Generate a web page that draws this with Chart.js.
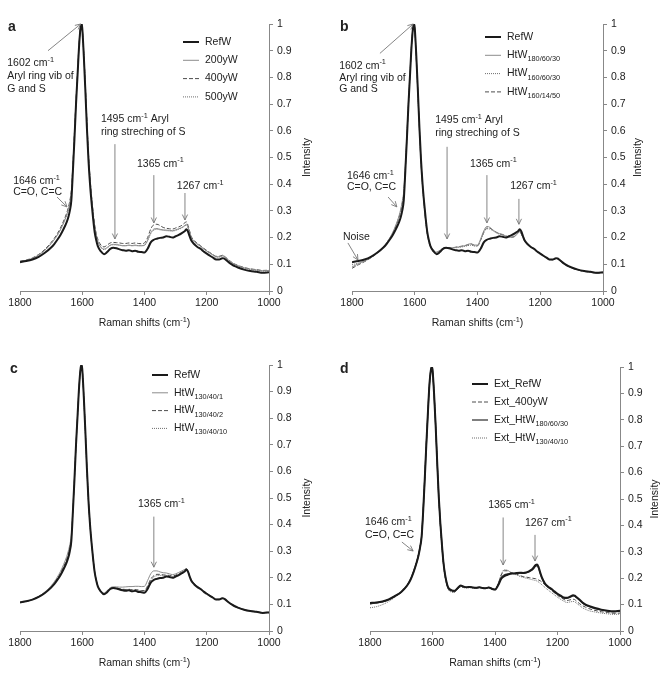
<!DOCTYPE html>
<html>
<head>
<meta charset="utf-8">
<script src="https://cdn.jsdelivr.net/npm/chart.js@4.4.1/dist/chart.umd.min.js"></script>
<style>
  body { margin: 0; background: #fff; }
  #fig { position: relative; width: 660px; height: 675px; }
  canvas { position: absolute; }
</style>
</head>
<body>
<div id="fig">
  <canvas id="panelA" width="330" height="337" style="left:0;top:0"></canvas>
  <canvas id="panelB" width="330" height="337" style="left:330px;top:0"></canvas>
  <canvas id="panelC" width="330" height="338" style="left:0;top:337px"></canvas>
  <canvas id="panelD" width="330" height="338" style="left:330px;top:337px"></canvas>
</div>
<script>
const FONT = "'Liberation Sans', Arial, sans-serif";

// Raman shift grid, cm-1
const shifts = [
  1800, 1780, 1760, 1740, 1720, 1700,
  1690, 1680, 1670, 1660, 1650,
  1645, 1640, 1635, 1630, 1625, 1620, 1615, 1610, 1605,
  1602, 1600, 1595, 1590, 1585, 1580, 1575, 1570, 1565, 1560,
  1555, 1550, 1540, 1530, 1520, 1510, 1500, 1490, 1480, 1470,
  1460, 1450, 1440, 1430, 1420, 1410, 1400, 1390, 1380, 1370,
  1360, 1350, 1340, 1330, 1320, 1310, 1300, 1290, 1280, 1270,
  1265, 1260, 1255, 1250, 1240, 1230, 1220, 1210, 1200, 1190,
  1180, 1170, 1160, 1150, 1145, 1140, 1130, 1120, 1110, 1100,
  1080, 1060, 1040, 1020, 1000
];

// normalised intensities, one value per shift
const refW = [
  0.108, 0.112, 0.118, 0.128, 0.143, 0.163,
  0.176, 0.192, 0.21, 0.232, 0.258,
  0.275, 0.3, 0.34, 0.45, 0.57, 0.7, 0.81, 0.92, 0.99,
  1, 0.985, 0.88, 0.75, 0.61, 0.49, 0.4, 0.33, 0.27, 0.22,
  0.19, 0.168, 0.148, 0.138, 0.146, 0.158, 0.162, 0.16, 0.156, 0.153,
  0.151, 0.153, 0.149, 0.151, 0.147, 0.146, 0.144, 0.158, 0.182, 0.192,
  0.196, 0.199, 0.2, 0.205, 0.203, 0.2, 0.205, 0.21, 0.217, 0.225,
  0.231, 0.222, 0.205, 0.19, 0.175, 0.165, 0.158, 0.148, 0.14, 0.132,
  0.125, 0.118, 0.118, 0.123, 0.122, 0.118, 0.108, 0.1, 0.093, 0.088,
  0.08, 0.075, 0.072, 0.068, 0.07
];
const yW200 = [
  0.11, 0.115, 0.122, 0.135, 0.153, 0.178,
  0.193, 0.21, 0.23, 0.255, 0.285,
  0.305, 0.33, 0.37, 0.47, 0.59, 0.71, 0.82, 0.93, 0.99,
  1, 0.985, 0.89, 0.77, 0.63, 0.51, 0.42, 0.35, 0.29, 0.24,
  0.208, 0.186, 0.165, 0.157, 0.163, 0.172, 0.175, 0.174, 0.172, 0.17,
  0.17, 0.172, 0.17, 0.172, 0.17, 0.17, 0.172, 0.19, 0.218, 0.232,
  0.234, 0.231, 0.229, 0.228, 0.227, 0.226, 0.229, 0.233, 0.238, 0.246,
  0.25, 0.238, 0.22, 0.202, 0.186, 0.176, 0.168, 0.158, 0.15, 0.142,
  0.135, 0.128, 0.128, 0.132, 0.131, 0.126, 0.116, 0.107, 0.1, 0.095,
  0.087, 0.082, 0.079, 0.076, 0.077
];
const yW400 = [
  0.112, 0.116, 0.124, 0.137, 0.156, 0.182,
  0.197, 0.215, 0.236, 0.262, 0.292,
  0.312, 0.338, 0.378, 0.475, 0.595, 0.715, 0.825, 0.93, 0.99,
  1, 0.985, 0.89, 0.77, 0.635, 0.515, 0.425, 0.355, 0.295, 0.248,
  0.215, 0.194, 0.172, 0.165, 0.172, 0.18, 0.182, 0.181, 0.18, 0.178,
  0.178, 0.18, 0.178, 0.18, 0.178, 0.177, 0.18, 0.2, 0.232, 0.248,
  0.25, 0.245, 0.238, 0.235, 0.233, 0.232, 0.236, 0.24, 0.246, 0.256,
  0.259, 0.245, 0.225, 0.205, 0.189, 0.178, 0.17, 0.16, 0.152, 0.144,
  0.137, 0.13, 0.13, 0.134, 0.132, 0.127, 0.117, 0.108, 0.101, 0.096,
  0.088, 0.083, 0.08, 0.077, 0.078
];
const yW500 = [
  0.109, 0.114, 0.121, 0.134, 0.152, 0.177,
  0.192, 0.209, 0.229, 0.254, 0.283,
  0.303, 0.328, 0.368, 0.465, 0.585, 0.705, 0.815, 0.925, 0.99,
  1, 0.985, 0.885, 0.765, 0.625, 0.505, 0.415, 0.345, 0.285, 0.236,
  0.205, 0.183, 0.162, 0.155, 0.161, 0.17, 0.173, 0.172, 0.171, 0.169,
  0.169, 0.171, 0.169, 0.17, 0.169, 0.169, 0.171, 0.188, 0.215, 0.228,
  0.231, 0.229, 0.227, 0.226, 0.225, 0.224, 0.227, 0.231, 0.236, 0.244,
  0.248, 0.236, 0.218, 0.2, 0.184, 0.175, 0.166, 0.157, 0.149, 0.141,
  0.134, 0.127, 0.127, 0.131, 0.13, 0.125, 0.115, 0.106, 0.099, 0.094,
  0.086, 0.081, 0.078, 0.075, 0.076
];
const htW180_60_30 = [
  0.09, 0.102, 0.112, 0.125, 0.142, 0.165,
  0.18, 0.198, 0.22, 0.248, 0.282,
  0.305, 0.335, 0.375, 0.47, 0.59, 0.71, 0.82, 0.93, 0.99,
  1, 0.98, 0.87, 0.74, 0.6, 0.48, 0.39, 0.32, 0.26, 0.215,
  0.186, 0.168, 0.152, 0.145, 0.152, 0.16, 0.162, 0.163, 0.162, 0.163,
  0.165, 0.167, 0.17, 0.175, 0.177, 0.172, 0.172, 0.195, 0.225, 0.242,
  0.238, 0.228, 0.22, 0.215, 0.212, 0.206, 0.202, 0.2, 0.205, 0.218,
  0.222, 0.212, 0.2, 0.188, 0.175, 0.165, 0.157, 0.148, 0.14, 0.132,
  0.124, 0.117, 0.117, 0.122, 0.12, 0.116, 0.106, 0.098, 0.092, 0.087,
  0.079, 0.074, 0.071, 0.068, 0.069
];
const htW160_60_30 = [
  0.098, 0.105, 0.114, 0.127, 0.144, 0.166,
  0.181, 0.198, 0.218, 0.245, 0.278,
  0.3, 0.328, 0.368, 0.46, 0.58, 0.705, 0.815, 0.925, 0.99,
  1, 0.98, 0.87, 0.74, 0.6, 0.48, 0.39, 0.32, 0.26, 0.213,
  0.184, 0.166, 0.15, 0.143, 0.15, 0.158, 0.16, 0.161, 0.161, 0.162,
  0.163, 0.165, 0.167, 0.17, 0.172, 0.168, 0.168, 0.19, 0.218, 0.233,
  0.232, 0.225, 0.218, 0.213, 0.21, 0.205, 0.203, 0.203, 0.208, 0.22,
  0.225, 0.214, 0.201, 0.189, 0.176, 0.166, 0.158, 0.149, 0.141, 0.133,
  0.125, 0.118, 0.118, 0.122, 0.121, 0.117, 0.107, 0.099, 0.092, 0.087,
  0.079, 0.074, 0.071, 0.068, 0.069
];
const htW160_14_50 = [
  0.085, 0.098, 0.11, 0.124, 0.141, 0.163,
  0.178, 0.195, 0.216, 0.243, 0.276,
  0.298, 0.325, 0.365, 0.455, 0.575, 0.7, 0.81, 0.925, 0.99,
  1, 0.98, 0.87, 0.745, 0.605, 0.485, 0.395, 0.325, 0.265, 0.217,
  0.188, 0.169, 0.153, 0.146, 0.152, 0.16, 0.162, 0.162, 0.162, 0.164,
  0.166, 0.168, 0.17, 0.173, 0.176, 0.171, 0.17, 0.19, 0.22, 0.236,
  0.235, 0.227, 0.22, 0.214, 0.211, 0.206, 0.203, 0.202, 0.206, 0.219,
  0.223, 0.213, 0.2, 0.188, 0.175, 0.165, 0.157, 0.148, 0.14, 0.132,
  0.124, 0.117, 0.117, 0.121, 0.12, 0.116, 0.106, 0.098, 0.091, 0.086,
  0.078, 0.073, 0.07, 0.067, 0.068
];
const htW130_40_1 = [
  0.107, 0.112, 0.119, 0.13, 0.147, 0.17,
  0.185, 0.203, 0.224, 0.25, 0.28,
  0.3, 0.325, 0.362, 0.46, 0.58, 0.705, 0.815, 0.925, 0.99,
  1, 0.985, 0.88, 0.75, 0.61, 0.49, 0.4, 0.33, 0.27, 0.222,
  0.192, 0.17, 0.15, 0.143, 0.152, 0.163, 0.166, 0.166, 0.165, 0.165,
  0.166, 0.167, 0.167, 0.168, 0.168, 0.167, 0.168, 0.19, 0.215, 0.226,
  0.226, 0.222, 0.219, 0.218, 0.215, 0.212, 0.215, 0.22, 0.226, 0.232,
  0.235, 0.225, 0.208, 0.193, 0.178, 0.168, 0.16, 0.15, 0.142, 0.134,
  0.127, 0.12, 0.12, 0.124, 0.123, 0.119, 0.109, 0.101, 0.094, 0.089,
  0.081, 0.076, 0.073, 0.069, 0.071
];
const htW130_40_2 = [
  0.106, 0.111, 0.118, 0.129, 0.145, 0.167,
  0.181, 0.198, 0.218, 0.242, 0.27,
  0.289, 0.315, 0.352, 0.455, 0.575, 0.7, 0.81, 0.92, 0.99,
  1, 0.985, 0.88, 0.75, 0.61, 0.49, 0.4, 0.33, 0.27, 0.221,
  0.191, 0.169, 0.148, 0.14, 0.149, 0.16, 0.164, 0.162, 0.159, 0.157,
  0.156, 0.157, 0.155, 0.156, 0.154, 0.152, 0.152, 0.17, 0.195, 0.208,
  0.213, 0.213, 0.211, 0.21, 0.209, 0.207, 0.21, 0.215, 0.222, 0.23,
  0.234, 0.224, 0.207, 0.192, 0.177, 0.167, 0.159, 0.149, 0.141, 0.133,
  0.126, 0.119, 0.119, 0.123, 0.122, 0.118, 0.108, 0.1, 0.093, 0.088,
  0.08, 0.075, 0.072, 0.068, 0.07
];
const htW130_40_10 = [
  0.107, 0.111, 0.118, 0.129, 0.145, 0.166,
  0.18, 0.197, 0.216, 0.24, 0.267,
  0.286, 0.312, 0.348, 0.452, 0.572, 0.7, 0.81, 0.92, 0.99,
  1, 0.985, 0.88, 0.75, 0.61, 0.49, 0.4, 0.33, 0.27, 0.221,
  0.19, 0.168, 0.147, 0.14, 0.148, 0.159, 0.163, 0.161, 0.158, 0.156,
  0.155, 0.156, 0.154, 0.155, 0.153, 0.151, 0.15, 0.166, 0.19, 0.204,
  0.208, 0.209, 0.208, 0.208, 0.207, 0.205, 0.208, 0.214, 0.221, 0.229,
  0.233, 0.223, 0.206, 0.191, 0.176, 0.166, 0.158, 0.148, 0.14, 0.132,
  0.125, 0.118, 0.118, 0.122, 0.121, 0.117, 0.107, 0.099, 0.092, 0.087,
  0.079, 0.074, 0.071, 0.067, 0.069
];
const extRefW = [
  0.106, 0.108, 0.112, 0.12, 0.133, 0.148,
  0.16, 0.174, 0.195, 0.225, 0.262,
  0.285, 0.315, 0.355, 0.45, 0.57, 0.7, 0.82, 0.93, 0.99,
  1, 0.99, 0.9, 0.78, 0.64, 0.51, 0.41, 0.33, 0.26, 0.215,
  0.185, 0.165, 0.155, 0.152, 0.162, 0.172, 0.168, 0.166, 0.167, 0.165,
  0.164, 0.166, 0.163, 0.162, 0.165, 0.16, 0.157, 0.173, 0.198, 0.208,
  0.213, 0.217, 0.218, 0.22, 0.221, 0.22, 0.222, 0.227, 0.235, 0.25,
  0.252, 0.24, 0.22, 0.203, 0.18, 0.168, 0.16, 0.15, 0.141, 0.134,
  0.127, 0.126, 0.13, 0.135, 0.134, 0.129, 0.119, 0.108, 0.1, 0.095,
  0.087, 0.081, 0.077, 0.075, 0.077
];
const ext400yW = [
  0.102, 0.106, 0.11, 0.118, 0.131, 0.147,
  0.16, 0.175, 0.196, 0.226, 0.264,
  0.287, 0.317, 0.357, 0.455, 0.575, 0.705, 0.82, 0.93, 0.99,
  1, 0.99, 0.9, 0.78, 0.64, 0.505, 0.405, 0.325, 0.255, 0.21,
  0.18, 0.16, 0.15, 0.148, 0.158, 0.168, 0.165, 0.164, 0.165, 0.164,
  0.163, 0.165, 0.163, 0.162, 0.165, 0.16, 0.158, 0.178, 0.212, 0.228,
  0.228, 0.222, 0.218, 0.215, 0.21, 0.206, 0.204, 0.202, 0.2, 0.198,
  0.196, 0.193, 0.19, 0.185, 0.175, 0.165, 0.155, 0.145, 0.135, 0.127,
  0.12, 0.115, 0.118, 0.12, 0.119, 0.114, 0.104, 0.096, 0.09, 0.085,
  0.078, 0.073, 0.07, 0.067, 0.068
];
const extHtW180_60_30 = [
  0.104, 0.107, 0.111, 0.119, 0.132, 0.148,
  0.16, 0.175, 0.196, 0.226, 0.263,
  0.286, 0.316, 0.356, 0.45, 0.57, 0.7, 0.82, 0.93, 0.99,
  1, 0.99, 0.9, 0.78, 0.64, 0.51, 0.41, 0.33, 0.26, 0.214,
  0.184, 0.164, 0.154, 0.151, 0.161, 0.171, 0.167, 0.165, 0.166, 0.164,
  0.163, 0.165, 0.163, 0.162, 0.165, 0.16, 0.157, 0.175, 0.203, 0.213,
  0.216, 0.218, 0.218, 0.219, 0.219, 0.218, 0.22, 0.225, 0.232, 0.245,
  0.248, 0.236, 0.217, 0.2, 0.178, 0.166, 0.158, 0.148, 0.139, 0.132,
  0.125, 0.124, 0.128, 0.133, 0.132, 0.127, 0.117, 0.106, 0.098, 0.093,
  0.085, 0.079, 0.075, 0.073, 0.075
];
const extHtW130_40_10 = [
  0.088, 0.092, 0.1, 0.112, 0.128, 0.146,
  0.16, 0.176, 0.198, 0.23, 0.27,
  0.293, 0.323, 0.362, 0.46, 0.58, 0.705, 0.82, 0.93, 0.99,
  1, 0.99, 0.9, 0.78, 0.64, 0.505, 0.405, 0.322, 0.252, 0.207,
  0.178, 0.158, 0.148, 0.147, 0.157, 0.167, 0.164, 0.163, 0.164, 0.163,
  0.162, 0.164, 0.162, 0.161, 0.164, 0.159, 0.157, 0.178, 0.215, 0.232,
  0.23, 0.222, 0.216, 0.212, 0.207, 0.203, 0.2, 0.197, 0.194, 0.191,
  0.189, 0.185, 0.18, 0.175, 0.165, 0.155, 0.146, 0.137, 0.128, 0.12,
  0.113, 0.108, 0.11, 0.112, 0.111, 0.106, 0.097, 0.088, 0.082, 0.077,
  0.072, 0.068, 0.065, 0.063, 0.064
];

const styles = {
  thick:  { borderColor: '#1a1a1a', borderWidth: 2,   borderDash: [] },
  grey:   { borderColor: '#8c8c8c', borderWidth: 1,   borderDash: [] },
  dashed: { borderColor: '#4d4d4d', borderWidth: 1,   borderDash: [4, 2] },
  dotted: { borderColor: '#6e6e6e', borderWidth: 1,   borderDash: [1, 1] },
  dark:   { borderColor: '#3a3a3a', borderWidth: 1.3, borderDash: [] }
};

// text with ^{sup} and _{sub} parts
function parseRich(str) {
  const parts = [];
  const re = /([\^_])\{([^}]*)\}/g;
  let last = 0, m;
  while ((m = re.exec(str))) {
    if (m.index > last) parts.push({ t: str.slice(last, m.index), k: '' });
    parts.push({ t: m[2], k: m[1] });
    last = re.lastIndex;
  }
  if (last < str.length) parts.push({ t: str.slice(last), k: '' });
  return parts;
}

function drawRich(ctx, str, x, y, size, align) {
  const parts = parseRich(str);
  const fontFor = k => (k ? size * 0.7 : size) + 'px ' + FONT;
  let w = 0;
  parts.forEach(p => { ctx.font = fontFor(p.k); w += ctx.measureText(p.t).width; });
  let cx = align === 'center' ? x - w / 2 : x;
  ctx.textAlign = 'left';
  ctx.textBaseline = 'middle';
  parts.forEach(p => {
    ctx.font = fontFor(p.k);
    const dy = p.k === '^' ? -size * 0.33 : p.k === '_' ? size * 0.38 : 0;
    ctx.fillText(p.t, cx, y + dy);
    cx += ctx.measureText(p.t).width;
  });
}

function drawArrow(ctx, x1, y1, x2, y2) {
  ctx.beginPath();
  ctx.moveTo(x1, y1);
  ctx.lineTo(x2, y2);
  ctx.stroke();
  const a = Math.atan2(y2 - y1, x2 - x1), h = 6;
  ctx.beginPath();
  ctx.moveTo(x2 - h * Math.cos(a - 0.45), y2 - h * Math.sin(a - 0.45));
  ctx.lineTo(x2, y2);
  ctx.lineTo(x2 - h * Math.cos(a + 0.45), y2 - h * Math.sin(a + 0.45));
  ctx.stroke();
}

// per-panel decorations: letter, legend, axis titles, labels and arrows
const decor = {};

const decorPlugin = {
  id: 'decor',
  afterDraw(chart) {
    const d = decor[chart.canvas.id];
    const ctx = chart.ctx;
    const area = chart.chartArea;
    const xs = chart.scales.x, ys = chart.scales.y;
    ctx.save();
    ctx.fillStyle = '#222';

    ctx.font = 'bold 14px ' + FONT;
    ctx.textAlign = 'left';
    ctx.textBaseline = 'middle';
    ctx.fillText(d.letter, d.letterPos[0], d.letterPos[1]);

    drawRich(ctx, 'Raman shifts (cm^{-1})', (area.left + area.right) / 2, area.bottom + 32, 10.5, 'center');
    ctx.save();
    ctx.translate(area.right + d.titleGap, (area.top + area.bottom) / 2);
    ctx.rotate(-Math.PI / 2);
    drawRich(ctx, 'Intensity', 0, 0, 10.5, 'center');
    ctx.restore();

    // legend
    chart.data.datasets.forEach((ds, i) => {
      const y = area.top + d.legend.top + i * d.legend.step;
      const x0 = area.left + d.legend.left;
      ctx.save();
      ctx.strokeStyle = ds.borderColor;
      ctx.lineWidth = ds.borderWidth;
      ctx.setLineDash(ds.borderDash);
      ctx.beginPath();
      ctx.moveTo(x0, y);
      ctx.lineTo(x0 + 16, y);
      ctx.stroke();
      ctx.restore();
      drawRich(ctx, ds.label, x0 + 22, y, 10.5, 'left');
    });

    // peak labels
    d.texts.forEach(t => {
      drawRich(ctx, t.text, xs.getPixelForValue(t.x), ys.getPixelForValue(t.y), 10.5, 'left');
    });
    ctx.strokeStyle = '#777';
    ctx.lineWidth = 0.9;
    d.arrows.forEach(a => {
      drawArrow(ctx, xs.getPixelForValue(a.from[0]), ys.getPixelForValue(a.from[1]),
        xs.getPixelForValue(a.to[0]), ys.getPixelForValue(a.to[1]));
    });
    ctx.restore();
  }
};

function makePanel(id, series, opts) {
  decor[id] = opts;
  new Chart(document.getElementById(id), {
    type: 'line',
    data: {
      datasets: series.map(s => Object.assign({
        label: s.label,
        data: shifts.map((x, i) => ({ x: x, y: s.values[i] })),
        pointRadius: 0,
        fill: false,
        cubicInterpolationMode: 'monotone'
      }, styles[s.style]))
    },
    options: {
      responsive: false,
      animation: false,
      devicePixelRatio: 1,
      layout: { padding: opts.pad },
      plugins: { legend: { display: false }, tooltip: { enabled: false } },
      scales: {
        x: {
          type: 'linear', min: 1000, max: 1800, reverse: true,
          ticks: {
            stepSize: 200, color: '#222', padding: 2, maxRotation: 0, font: { family: FONT, size: 10.5 },
            callback: v => String(v)
          },
          grid: { drawOnChartArea: false, drawTicks: true, tickLength: 4, color: '#888' },
          border: { color: '#888', width: 1 },
          afterFit: s => { s.height = opts.xHeight; }
        },
        y: {
          position: 'right', min: 0, max: 1,
          ticks: {
            stepSize: 0.1, color: '#222', padding: 4, font: { family: FONT, size: 10.5 },
            callback: v => String(Math.round(v * 10) / 10)
          },
          grid: { drawOnChartArea: false, drawTicks: true, tickLength: 4, color: '#888' },
          border: { color: '#888', width: 1 },
          afterFit: s => { s.width = opts.yWidth; }
        }
      }
    },
    plugins: [decorPlugin]
  });
}

makePanel('panelA', [
  { label: 'RefW', values: refW, style: 'thick' },
  { label: '200yW', values: yW200, style: 'grey' },
  { label: '400yW', values: yW400, style: 'dashed' },
  { label: '500yW', values: yW500, style: 'dotted' }
], {
  pad: { left: 20, top: 24, right: 0, bottom: 0 }, xHeight: 46, yWidth: 61, titleGap: 38,
  letter: 'a', letterPos: [8, 27],
  legend: { left: 163, top: 18, step: 18.3 },
  texts: [
    { x: 1841, y: 0.853, text: '1602 cm^{-1}' },
    { x: 1841, y: 0.805, text: 'Aryl ring vib of' },
    { x: 1841, y: 0.757, text: 'G and S' },
    { x: 1540, y: 0.644, text: '1495 cm^{-1} Aryl' },
    { x: 1540, y: 0.596, text: 'ring streching of S' },
    { x: 1424, y: 0.476, text: '1365 cm^{-1}' },
    { x: 1296, y: 0.393, text: '1267 cm^{-1}' },
    { x: 1822, y: 0.412, text: '1646 cm^{-1}' },
    { x: 1822, y: 0.371, text: 'C=O, C=C' }
  ],
  arrows: [
    { from: [1710, 0.90], to: [1605, 1.0] },
    { from: [1495, 0.55], to: [1495, 0.195] },
    { from: [1370, 0.434], to: [1370, 0.255] },
    { from: [1270, 0.367], to: [1270, 0.266] },
    { from: [1681, 0.352], to: [1649, 0.315] }
  ]
});

makePanel('panelB', [
  { label: 'RefW', values: refW, style: 'thick' },
  { label: 'HtW_{180/60/30}', values: htW180_60_30, style: 'grey' },
  { label: 'HtW_{160/60/30}', values: htW160_60_30, style: 'dotted' },
  { label: 'HtW_{160/14/50}', values: htW160_14_50, style: 'dashed' }
], {
  pad: { left: 22, top: 24, right: 0, bottom: 0 }, xHeight: 46, yWidth: 57, titleGap: 35,
  letter: 'b', letterPos: [10, 27],
  legend: { left: 133, top: 13, step: 18.3 },
  texts: [
    { x: 1841, y: 0.843, text: '1602 cm^{-1}' },
    { x: 1841, y: 0.797, text: 'Aryl ring vib of' },
    { x: 1841, y: 0.755, text: 'G and S' },
    { x: 1535, y: 0.64, text: '1495 cm^{-1} Aryl' },
    { x: 1535, y: 0.59, text: 'ring streching of S' },
    { x: 1424, y: 0.476, text: '1365 cm^{-1}' },
    { x: 1296, y: 0.393, text: '1267 cm^{-1}' },
    { x: 1816, y: 0.43, text: '1646 cm^{-1}' },
    { x: 1816, y: 0.39, text: 'C=O, C=C' },
    { x: 1829, y: 0.2, text: 'Noise' }
  ],
  arrows: [
    { from: [1711, 0.89], to: [1605, 1.0] },
    { from: [1497, 0.54], to: [1497, 0.195] },
    { from: [1370, 0.434], to: [1370, 0.255] },
    { from: [1268, 0.345], to: [1268, 0.25] },
    { from: [1685, 0.352], to: [1657, 0.315] },
    { from: [1813, 0.18], to: [1781, 0.116] }
  ]
});

makePanel('panelC', [
  { label: 'RefW', values: refW, style: 'thick' },
  { label: 'HtW_{130/40/1}', values: htW130_40_1, style: 'grey' },
  { label: 'HtW_{130/40/2}', values: htW130_40_2, style: 'dashed' },
  { label: 'HtW_{130/40/10}', values: htW130_40_10, style: 'dotted' }
], {
  pad: { left: 20, top: 28, right: 0, bottom: 0 }, xHeight: 44, yWidth: 61, titleGap: 38,
  letter: 'c', letterPos: [10, 32],
  legend: { left: 132, top: 10, step: 17.8 },
  texts: [
    { x: 1421, y: 0.477, text: '1365 cm^{-1}' }
  ],
  arrows: [
    { from: [1370, 0.43], to: [1370, 0.24] }
  ]
});

makePanel('panelD', [
  { label: 'Ext_RefW', values: extRefW, style: 'thick' },
  { label: 'Ext_400yW', values: ext400yW, style: 'dashed' },
  { label: 'Ext_HtW_{180/60/30}', values: extHtW180_60_30, style: 'dark' },
  { label: 'Ext_HtW_{130/40/10}', values: extHtW130_40_10, style: 'dotted' }
], {
  pad: { left: 40, top: 30, right: 0, bottom: 0 }, xHeight: 44, yWidth: 40, titleGap: 35,
  letter: 'd', letterPos: [10, 32],
  legend: { left: 102, top: 17, step: 18 },
  texts: [
    { x: 1422, y: 0.477, text: '1365 cm^{-1}' },
    { x: 1304, y: 0.41, text: '1267 cm^{-1}' },
    { x: 1816, y: 0.413, text: '1646 cm^{-1}' },
    { x: 1816, y: 0.364, text: 'C=O, C=C' }
  ],
  arrows: [
    { from: [1374, 0.43], to: [1374, 0.25] },
    { from: [1272, 0.364], to: [1272, 0.265] },
    { from: [1698, 0.337], to: [1662, 0.303] }
  ]
});
</script>
</body>
</html>
